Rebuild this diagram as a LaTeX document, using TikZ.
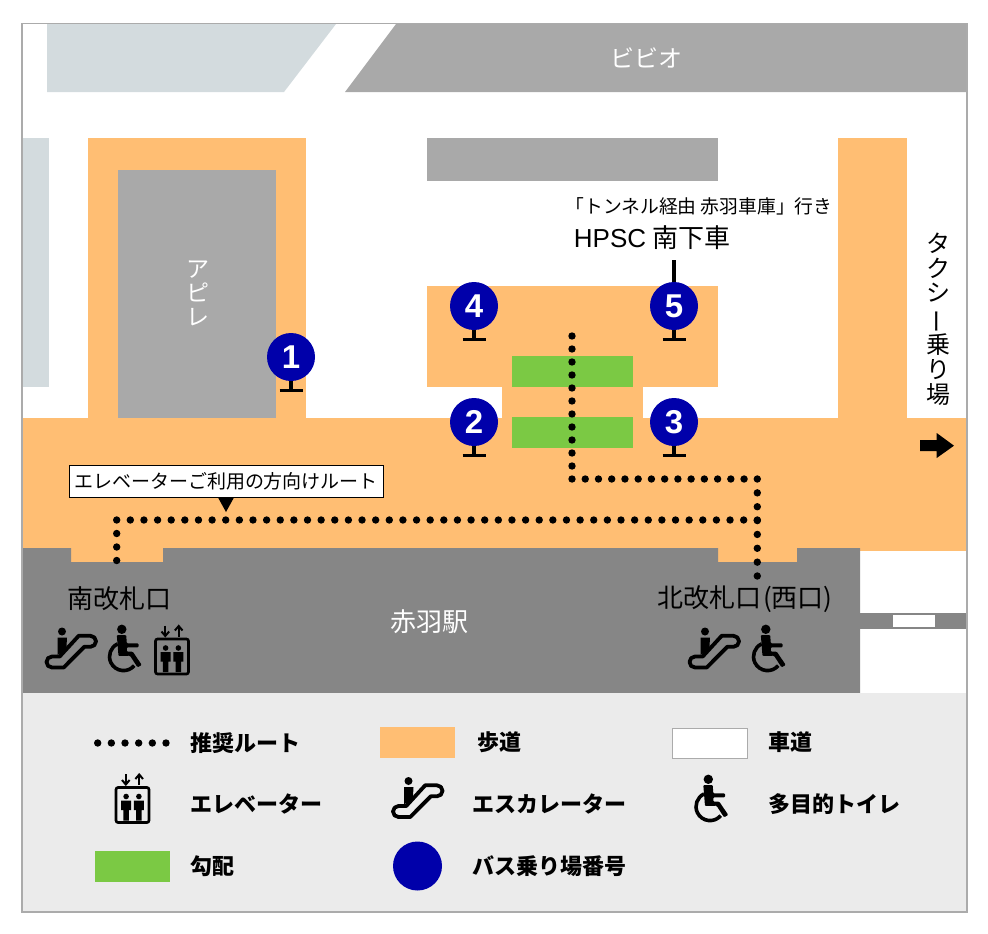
\documentclass[tikz,border=0pt]{standalone}
\usepackage{fontspec}
\setmainfont{Noto Sans CJK JP}
\newfontfamily\latinfont{Liberation Sans}
\definecolor{walkway}{HTML}{FFBE73}
\definecolor{slopegreen}{HTML}{7BC944}
\definecolor{stationgrey}{HTML}{868686}
\definecolor{blockgrey}{HTML}{A9A9A9}
\definecolor{palegrey}{HTML}{D3DBDE}
\definecolor{legendgrey}{HTML}{EBEBEB}
\definecolor{framegrey}{HTML}{ABABAB}
\definecolor{stopblue}{HTML}{0000AA}
\tikzset{%
  busno/.style={circle,fill=stopblue,text=white,inner sep=0pt,minimum size=48pt,font=\latinfont\bfseries\fontsize{33}{33}\selectfont},%
  stand/.style={line width=3.2pt},%
  route/.style={line width=7.4pt,line cap=round,dash pattern=on 0pt off #1},%
  maptext/.style={inner sep=0pt,font=\fontsize{26}{26}\selectfont},%
  legendtext/.style={anchor=west,inner sep=0pt,font=\bfseries\fontsize{22}{22}\selectfont},%
  pics/escalator/.style={code={%
    \draw[line width=3.8pt,join=round] (-19,7) -- (-11.3,7) -- (7.7,-13.7) -- (19.5,-13.7) arc[start angle=-90,end angle=90,radius=5.5] -- (13.3,-2.7) -- (-7.3,18) -- (-19,18) arc[start angle=90,end angle=270,radius=5.5] -- cycle;%
    \fill (-9,-18) circle[radius=4];%
    \fill (-13.3,-12) -- (-4,-12) -- (-4.7,0.7) -- (-13.3,5.3) -- cycle;%
  }},%
  pics/wheelchair/.style={code={%
    \fill (-3.2,-19.7) circle[radius=4.7];%
    \fill[rounded corners=1pt] (-8.2,-14) -- (1.2,-14) -- (1.8,-5.7) -- (13.5,-5.7) -- (13.5,-1.7) -- (1.8,-1.7) -- (1.8,2.7) -- (7.8,2.7) -- (16.8,16) -- (12.5,18.3) -- (5,6.7) -- (-6.5,7) -- cycle;%
    \draw[line width=3.6pt] (-7.4,-5.1) arc[start angle=245,end angle=40,radius=14];%
  }},%
  pics/lift/.style={code={%
    \draw[line width=2.6pt,rounded corners=2pt] (-16.5,-17.5) rectangle (16.5,17.5);%
    \draw[line width=2pt] (-6.7,-31) -- (-6.7,-21);%
    \draw[line width=2pt] (-10.5,-25) -- (-6.7,-20.5) -- (-2.9,-25);%
    \draw[line width=2pt] (6.7,-20) -- (6.7,-30);%
    \draw[line width=2pt] (2.9,-26) -- (6.7,-30.5) -- (10.5,-26);%
    \foreach \xpos in {-6.4,6.4}{%
      \fill (\xpos,-8.5) circle[radius=2.8];%
      \fill (\xpos-5,-4.5) -- (\xpos+5,-4.5) -- (\xpos+5,5) -- (\xpos+2.8,5) -- (\xpos+2.8,15.5) -- (\xpos-2.8,15.5) -- (\xpos-2.8,5) -- (\xpos-5,5) -- cycle;%
    }%
  }}%
}%
\begin{document}
\begin{tikzpicture}[x=1pt,y=-1pt]%
\useasboundingbox (0,0) rectangle (988,934);%
% buildings along the top
\fill[palegrey] (47,24) -- (336,24) -- (284,92) -- (47,92) -- cycle;%
\fill[blockgrey] (396,24) -- (967,24) -- (967,92) -- (345,92) -- cycle;%
\node[maptext,text=white,font=\fontsize{24}{24}\selectfont] (bibio) at (646,58) {ビビオ};%
\fill[palegrey] (22,138) rectangle (49,387);%
\fill[blockgrey] (427,138) rectangle (718,181);%
% walkways
\fill[walkway] (22,418) rectangle (967,551);%
\fill[walkway] (88,138) rectangle (306,418);%
\fill[walkway] (838,138) rectangle (907,418);%
\fill[walkway] (427,286) rectangle (718,387);%
\fill[walkway] (502,387) rectangle (643,418);%
\fill[walkway] (71,548) rectangle (163,562);%
\fill[walkway] (718,548) rectangle (797,562);%
\fill[blockgrey] (118,170) rectangle (276,418);%
\node[maptext,text=white,align=center,font=\fontsize{23}{24}\selectfont] (apire) at (198,293) {ア\\ピ\\レ};%
% slopes
\fill[slopegreen] (512,356) rectangle (633,387);%
\fill[slopegreen] (512,417) rectangle (633,448);%
% station
\fill[stationgrey] (22,548) -- (71,548) -- (71,562) -- (163,562) -- (163,548) -- (718,548) -- (718,562) -- (797,562) -- (797,548) -- (860,548) -- (860,693) -- (22,693) -- cycle;%
\fill[stationgrey] (860,613) rectangle (967,629);%
\fill[white] (893,615) rectangle (935,627);%
\node[maptext,text=white] (akabane) at (429,622) {赤羽駅};%
\node[maptext] (south) at (119.5,599) {南改札口};%
\node[maptext] (north) at (745,599) {北改札口\hspace{2pt}(西口)};%
\pic at (71,649.5) {escalator};%
\pic at (125,649) {wheelchair};%
\pic at (172,656.5) {lift};%
\pic at (714,649.5) {escalator};%
\pic at (769,649) {wheelchair};%
% taxi side
\node[maptext,align=center,font=\fontsize{24}{24.6}\selectfont] (taxi) at (938,319) {タ\\ク\\シ\\\hspace*{-10pt}\rotatebox[origin=c]{-90}{ー}\\乗\\り\\場};%
\fill (920,440) -- (936.7,440) -- (936.7,433) -- (954,445.7) -- (936.7,458) -- (936.7,451) -- (920,451) -- cycle;%
% route
\coordinate (busend) at (572,336);%
\coordinate (busturn) at (572,479);%
\coordinate (northturn) at (757.3,479);%
\coordinate (northgate) at (757.3,576);%
\coordinate (split) at (757.3,520);%
\coordinate (southturn) at (116.7,520);%
\coordinate (southgate) at (116.7,574);%
\draw[route=13pt] (busend) -- (busturn);%
\draw[route=13.236pt] (busturn) -- (northturn);%
\draw[route=13.857pt] (northturn) -- (northgate);%
\draw[route=13.63pt] (split) -- (southturn);%
\draw[route=13.5pt] (southturn) -- (southgate);%
% lift route label
\node[draw,fill=white,line width=1pt,inner sep=0pt,minimum width=314pt,minimum height=32pt,font=\fontsize{19}{19}\selectfont] (liftroute) at (226,481) {エレベーターご利用の方向けルート};%
\fill (218,497.5) -- (234,497.5) -- (226,512) -- cycle;%
% bus stops
\foreach \stopname/\xpos/\ypos/\numlabel in {stopa/291/357/1,stopb/474/422/2,stopc/674/422/3,stopd/474/306/4,stope/674/306/5}{%
  \node[busno] (\stopname) at (\xpos,\ypos) {\numlabel};%
  \draw[stand] (\stopname.south) -- ++(0,9) ++(-11.5,0) -- ++(23,0);%
}%
\draw[stand] (stope.north) -- ++(0,-22);%
\node[inner sep=0pt,font=\fontsize{18.8}{18.8}\selectfont] (dest) at (699,206) {「トンネル経由 赤羽車庫」行き};%
\node[inner sep=0pt,font=\fontsize{26}{26}\selectfont] (hpsc) at (652,238) {{\latinfont HPSC}\hspace{6pt}南下車};%
% legend
\fill[legendgrey] (22,693) rectangle (967,912);%
\coordinate (keyleft) at (97.7,743);%
\coordinate (keyright) at (166,743);%
\draw[route=13.66pt] (keyleft) -- (keyright);%
\node[legendtext] (keyroute) at (190,743) {推奨ルート};%
\fill[walkway] (380,727) rectangle (455,758);%
\node[legendtext] (keywalk) at (477,742) {歩道};%
\draw[framegrey,fill=white,line width=0.8pt] (672,728) rectangle (747,758);%
\node[legendtext] (keyroad) at (768,742) {車道};%
\pic at (132.5,805) {lift};%
\node[legendtext] (keylift) at (190,804) {エレベーター};%
\pic at (417.5,799) {escalator};%
\node[legendtext] (keyesc) at (472,804) {エスカレーター};%
\pic at (711.5,799) {wheelchair};%
\node[legendtext] (keytoilet) at (768,804) {多目的トイレ};%
\fill[slopegreen] (95,851) rectangle (170,882);%
\node[legendtext] (keyslope) at (190,866) {勾配};%
\node[circle,fill=stopblue,inner sep=0pt,minimum size=49pt] (keybus) at (417.5,866) {};%
\node[legendtext] (keystop) at (472,866) {バス乗り場番号};%
% frame
\draw[framegrey,line width=1.2pt] (22,23.5) rectangle (967,912);%
\end{tikzpicture}
\end{document}
